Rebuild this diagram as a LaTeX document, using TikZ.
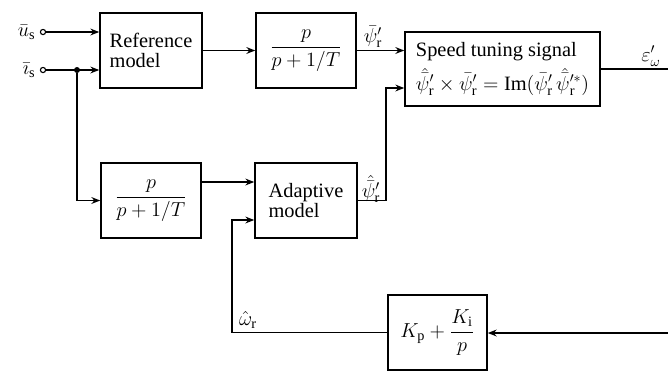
\documentclass[tikz,border=0pt]{standalone}
\usepackage{amsmath,amssymb}
\usepackage{fontspec}
\setmainfont{Liberation Serif}
\usetikzlibrary{arrows.meta,positioning}
\tikzset{
  >={Stealth[length=2.2mm,width=1.7mm]},
  % blocks
  blk/.style={draw,line width=1.1pt,inner sep=2pt,align=left,
              font=\fontsize{14.5}{14.5}\selectfont},
  sig/.style={->,line width=1.1pt},
  wire/.style={line width=1.1pt},
  term/.style={circle,draw,fill=white,line width=0.8pt,inner sep=0pt,
               minimum size=1.3mm},
  dot/.style={circle,fill,inner sep=0pt,minimum size=1.5mm},
  lbl/.style={font=\fontsize{14.5}{16}\selectfont,inner sep=0pt},
}

\begin{document}
\begin{tikzpicture}[x=0.025cm,y=-0.025cm]
  \useasboundingbox (0,0) rectangle (668,371);
  % blocks
  \node[blk,minimum width=2.55cm,minimum height=1.875cm] (ref) at (151,50.5) {Reference\\model};
  \node[blk,minimum width=2.5cm,minimum height=1.875cm] (filt1) at (306,50.5) {$\dfrac{p}{p+1/T}$};
  \node[blk,minimum width=4.875cm,minimum height=1.85cm] (speed) at (502.5,69)
    {Speed tuning signal\\[4pt]
     $\hat{\bar{\psi}}'_\mathrm{r}\times\bar{\psi}'_\mathrm{r}
      =\mathrm{Im}(\bar{\psi}'_\mathrm{r}\,\hat{\bar{\psi}}{}'^{*}_\mathrm{r})$};
  \node[blk,minimum width=2.5cm,minimum height=1.875cm] (filt2) at (151,200.5) {$\dfrac{p}{p+1/T}$};
  \node[blk,minimum width=2.55cm,minimum height=1.875cm] (adapt) at (306,200.5) {Adaptive\\model};
  \node[blk,minimum width=2.475cm,minimum height=1.875cm] (pi) at (437.5,332.5)
    {$K_\mathrm{p}+\dfrac{K_\mathrm{i}}{p}$};
  % inputs
  \node[term] (us) at (43,32) {};
  \node[term] (is) at (43,70) {};
  \node[lbl,left=3pt of us] (lus) {$\bar{u}_\mathrm{s}$};
  \node[lbl,left=3pt of is] (lis) {$\bar{\imath}_\mathrm{s}$};
  \node[dot] (j) at (77,70) {};
  \coordinate (a1) at (0,182);
  \coordinate (k) at (386,88);
  \coordinate (w) at (232,220);
  \coordinate (eo) at (668,70);
  \coordinate (pin) at (668,333);
  % connectors
  \draw[sig] (us) -- (us -| ref.west);
  \draw[sig] (is) -- (is -| ref.west);
  \draw[sig] (j) |- (filt2);
  \draw[sig] (ref) -- (filt1);
  \draw[sig] (filt1.east) -- (filt1.east -| speed.west);
  \draw[sig] (filt2.east |- a1) -- (adapt.west |- a1);
  \draw[sig] (adapt.east) -| (k) -- (k -| speed.west);
  \draw[wire] (speed.east) -- (speed.east -| eo);
  \draw[sig] (pin) -- (pin -| pi.east);
  \draw[sig] (pi.west) -| (w) -- (w -| adapt.west);
  % signal labels
  \node[lbl] (lpsi) at (373,37) {$\bar{\psi}'_\mathrm{r}$};
  \node[lbl] (lpsih) at (371,189) {$\hat{\bar{\psi}}'_\mathrm{r}$};
  \node[lbl] (leps) at (651,56) {$\varepsilon'_\omega$};
  \node[lbl] (lom) at (248,320) {$\hat{\omega}_\mathrm{r}$};
\end{tikzpicture}
\end{document}
